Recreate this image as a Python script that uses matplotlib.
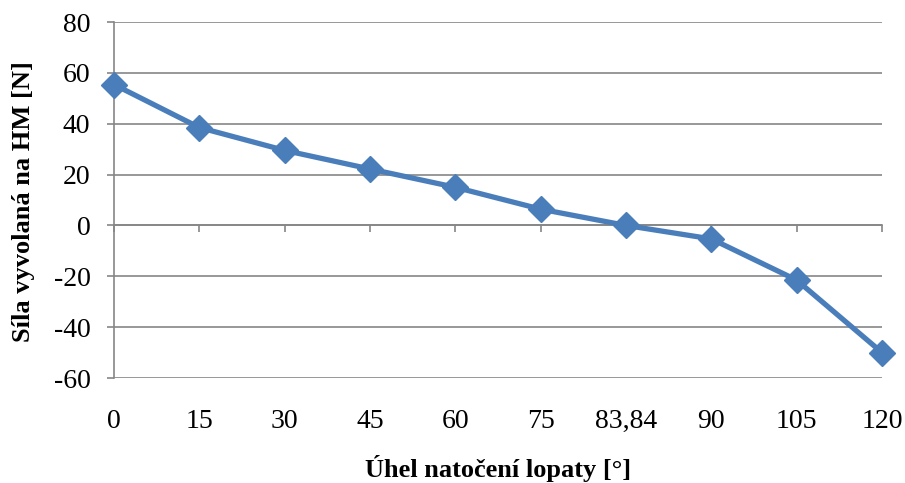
import matplotlib
matplotlib.use("Agg")
import matplotlib.pyplot as plt

categories = ["0", "15", "30", "45", "60", "75", "83,84", "90", "105", "120"]
values = [55.4, 38.5, 29.5, 22.2, 15.0, 6.4, 0.0, -5.3, -21.5, -50.0]
yticks = [-60, -40, -20, 0, 20, 40, 60, 80]

plt.rcParams['font.family'] = ['Liberation Serif', 'DejaVu Serif']
GRAY = '#868686'
BLUE = '#4A7EBB'
FS = 20
LFS = 19

fig = plt.figure(figsize=(9.05, 4.83), dpi=100)
ax = fig.add_axes([114/905, 1-378/483, (882-114)/905, (378-22)/483])

x = list(range(len(categories)))
ax.plot(x, values, color=BLUE, lw=3.8, marker='D', ms=13, mfc=BLUE, mec=BLUE,
        clip_on=False, zorder=5, solid_joinstyle='round')

ax.set_xlim(0, len(categories) - 1)
ax.set_ylim(-60, 80)
ax.set_yticks(yticks)
ax.set_yticklabels([str(v) for v in yticks], fontsize=FS)
ax.yaxis.grid(True, color=GRAY, lw=1.2)
ax.set_axisbelow(True)
ax.tick_params(axis='y', direction='out', length=5, width=1.2, color=GRAY, pad=12)

for s in ['top', 'right']:
    ax.spines[s].set_visible(False)
ax.spines['left'].set_color(GRAY)
ax.spines['left'].set_linewidth(1.2)
ax.spines['bottom'].set_position(('data', 0))
ax.spines['bottom'].set_color(GRAY)
ax.spines['bottom'].set_linewidth(1.2)

ax.set_xticks(x)
ax.set_xticklabels([])
ax.tick_params(axis='x', direction='out', length=5, width=1.2, color=GRAY)

sec = ax.secondary_xaxis(0)
sec.set_xticks(x)
sec.set_xticklabels(categories, fontsize=FS)
sec.tick_params(axis='x', length=0, pad=22)
sec.spines['bottom'].set_visible(False)

fig.text(24/905, 1-202/483, "Síla vyvolaná na HM [N]", fontsize=LFS,
         fontweight='bold', rotation=90, ha='center', va='center')
fig.text(498/905, 1-468/483, "Úhel natočení lopaty [°]", fontsize=LFS,
         fontweight='bold', ha='center', va='center')

fig.savefig("out.png", dpi=100)
